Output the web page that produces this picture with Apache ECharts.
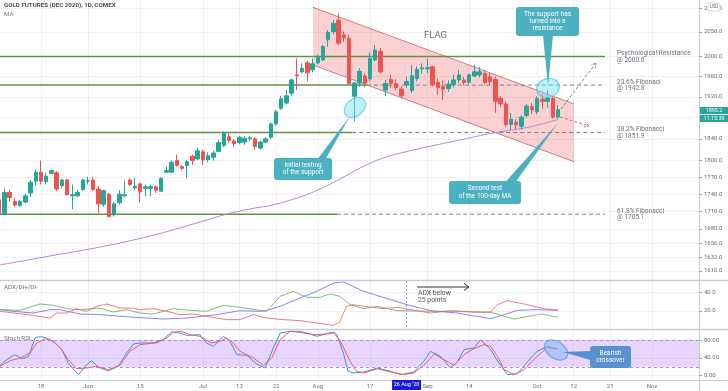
<!DOCTYPE html>
<html><head><meta charset="utf-8">
<script src="https://cdn.jsdelivr.net/npm/echarts@6/dist/echarts.min.js"></script>
<style>html,body{margin:0;padding:0;background:#fff}#c{width:728px;height:391px}</style>
</head><body><div id="c"></div><script>
// ---------- data ----------
const dates = ['2020-05-06','2020-05-07','2020-05-08','2020-05-11','2020-05-12','2020-05-13','2020-05-14','2020-05-15','2020-05-18','2020-05-19','2020-05-20','2020-05-21','2020-05-22','2020-05-26','2020-05-27','2020-05-28','2020-05-29','2020-06-01','2020-06-02','2020-06-03','2020-06-04','2020-06-05','2020-06-08','2020-06-09','2020-06-10','2020-06-11','2020-06-12','2020-06-15','2020-06-16','2020-06-17','2020-06-18','2020-06-19','2020-06-22','2020-06-23','2020-06-24','2020-06-25','2020-06-26','2020-06-29','2020-06-30','2020-07-01','2020-07-02','2020-07-06','2020-07-07','2020-07-08','2020-07-09','2020-07-10','2020-07-13','2020-07-14','2020-07-15','2020-07-16','2020-07-17','2020-07-20','2020-07-21','2020-07-22','2020-07-23','2020-07-24','2020-07-27','2020-07-28','2020-07-29','2020-07-30','2020-07-31','2020-08-03','2020-08-04','2020-08-05','2020-08-06','2020-08-07','2020-08-10','2020-08-11','2020-08-12','2020-08-13','2020-08-14','2020-08-17','2020-08-18','2020-08-19','2020-08-20','2020-08-21','2020-08-24','2020-08-25','2020-08-26','2020-08-27','2020-08-28','2020-08-31','2020-09-01','2020-09-02','2020-09-03','2020-09-04','2020-09-08','2020-09-09','2020-09-10','2020-09-11','2020-09-14','2020-09-15','2020-09-16','2020-09-17','2020-09-18','2020-09-21','2020-09-22','2020-09-23','2020-09-24','2020-09-25','2020-09-28','2020-09-29','2020-09-30','2020-10-01','2020-10-02','2020-10-05','2020-10-06','2020-10-07'];
const open  = [1730,1705,1743,1727,1720,1726,1742,1763,1779,1762,1777,1778,1755,1765,1737,1737,1748,1763,1765,1749,1722,1740,1704,1725,1737,1765,1751,1758,1750,1750,1753,1745,1779,1779,1800,1789,1791,1808,1803,1816,1802,1806,1817,1828,1844,1836,1833,1834,1840,1840,1823,1834,1843,1868,1898,1908,1927,1963,1969,1987,1973,1987,1993,2034,2051,2075,2044,2037,1921,1947,1961,1955,1993,2010,1933,1954,1946,1935,1943,1932,1956,1975,1975,1979,1948,1940,1936,1944,1953,1953,1948,1961,1963,1966,1959,1954,1917,1906,1867,1871,1863,1884,1901,1891,1915,1911,1917,1881];
const close = [1706,1743,1734,1721,1727,1737,1761,1779,1763,1772,1782,1749,1765,1739,1739,1743,1765,1764,1748,1723,1746,1701,1723,1740,1739,1757,1754,1744,1753,1753,1747,1768,1782,1797,1791,1786,1798,1800,1818,1801,1809,1814,1833,1851,1837,1831,1843,1841,1842,1826,1834,1840,1868,1891,1916,1922,1953,1961,1976,1967,1985,1998,2020,2049,2068,2027,2038,1946,1947,1970,1947,1996,2013,1969,1946,1946,1938,1922,1950,1961,1974,1977,1977,1944,1938,1935,1945,1953,1963,1948,1963,1969,1969,1948,1950,1911,1906,1867,1877,1866,1881,1902,1895,1917,1911,1918,1881,1895.2];
const low   = [1700,1704,1727,1718,1718,1724,1735,1755,1757,1757,1776,1745,1750,1737,1714,1735,1746,1757,1746,1707,1718,1700,1701,1722,1735,1754,1748,1725,1736,1736,1742,1744,1778,1778,1789,1782,1768,1792,1801,1792,1797,1800,1815,1825,1832,1826,1830,1829,1836,1820,1820,1832,1840,1865,1895,1905,1922,1933,1966,1950,1968,1984,1990,2020,2045,2023,2030,1943,1873,1940,1938,1950,1990,1966,1921,1937,1933,1917,1937,1927,1950,1965,1966,1940,1924,1914,1930,1938,1947,1943,1944,1958,1958,1943,1943,1889,1900,1863,1857,1857,1857,1880,1886,1886,1896,1899,1878,1877];
const high  = [1734,1750,1748,1733,1730,1741,1765,1783,1800,1778,1784,1781,1767,1767,1757,1748,1767,1771,1771,1754,1748,1742,1726,1747,1764,1768,1768,1760,1757,1757,1755,1770,1789,1800,1811,1792,1801,1811,1823,1820,1815,1818,1838,1854,1851,1840,1846,1845,1846,1843,1836,1843,1871,1895,1922,1933,1956,1996,1986,1991,1996,2004,2023,2054,2075,2089,2051,2044,1948,1976,1966,2008,2023,2017,1953,1963,1954,1940,1960,1983,1980,1986,1996,1981,1956,1952,1952,1963,1973,1959,1966,1983,1979,1972,1966,1959,1921,1911,1889,1877,1884,1906,1908,1921,1926,1933,1921,1904];
// 100-day MA, read at sample points [bar index, price]
const ma100 = [[0.15,1619.8],[9.7,1634.5],[19.3,1649.4],[28.9,1667.9],[38.5,1691.7],[43.6,1705.3],[48,1714.1],[52.4,1721.1],[57.6,1734.9],[61.4,1749.0],[65.3,1766.9],[69.1,1786.6],[73.5,1804.8],[77.7,1815.8],[81.9,1825.0],[88.2,1837.9],[94.6,1851.0],[101.6,1862.3],[107,1876.4]];
const adx = [[0.15,21.3],[2.7,19.5],[6.5,17.6],[9.7,21.3],[11.6,21.3],[15.5,16.5],[19.3,15.8],[25.7,12.9],[31.4,11],[35.9,12.1],[41.6,15.8],[46.1,20.2],[49.9,19.5],[51.2,20.2],[53.8,25],[57.6,34.2],[60.8,41.5],[64,50.7],[65.9,51.8],[69.8,41.5],[78.1,26.8],[82.6,20.2],[87.7,17.6],[94.1,11.4],[96.7,15.8],[99.2,20.6],[103,21.3],[107,20.6]];
const diPlus = [[0.15,21.3],[4,20.6],[7.8,27.6],[10.4,26.1],[12.9,22.4],[15.5,21.3],[19.3,23.1],[21.8,18.7],[24.4,21.3],[26.9,17.6],[29.5,16.5],[33.3,22.4],[36.5,20.6],[39.7,19.5],[42.9,26.1],[46.1,23.9],[49.9,20.6],[51.2,19.5],[53.8,36],[56.3,41.5],[58.9,34.9],[61.4,34.9],[63.3,38.6],[65.2,36],[67.2,26.8],[69.8,22.4],[72.4,25],[76.2,20.2],[82.6,19.5],[88.4,19.5],[94.1,18.4],[98.6,11],[103.7,16.5],[107,12.9]];
const diMinus = [[0.15,19.5],[6.5,15],[9.7,12.1],[11,17.6],[12.9,17.6],[14.8,22.4],[16.7,19.5],[18.7,25],[20.6,27.6],[23.1,23.1],[25.7,23.1],[26.9,21.3],[29.5,22.4],[32.1,19.5],[34.6,15.8],[37.2,16.5],[39.7,14],[43.5,10.3],[46.1,10.3],[48.7,15.8],[51.2,12.1],[54.4,10.3],[57.6,9.2],[64,4],[65.2,7.7],[66.5,25],[67.8,26.8],[69.8,25],[73.7,22.4],[76.2,23.9],[82.6,17.6],[86.4,20.2],[90.9,18.4],[94.1,18.7],[95.4,26.8],[97.3,31.2],[100.5,27.6],[104.3,22.4],[107,20.6]];
const stochK = [[0.15,23.3],[1.4,36],[3,47.2],[4.3,38.2],[5.6,42.7],[6.9,86],[8.1,87.5],[9.4,83],[10.7,73.3],[12,58.4],[13.2,28.5],[15.2,2.4],[16.4,21],[17.7,33.7],[19,18.8],[20.9,11.3],[22.8,21],[24.4,50.9],[25.7,71.1],[27,73.3],[30.1,73.3],[31.4,80.8],[33,98],[34.6,95.7],[35.9,90.5],[38.4,92],[39.7,73.3],[41,65.9],[42.3,80.8],[42.9,88.3],[44.2,77.1],[45.5,47.2],[47.4,45.7],[49.3,26.3],[50.9,17.3],[52.5,62.1],[53.8,95.7],[55.7,99.5],[57.6,97.2],[59.5,93.5],[60.8,88.3],[64,98],[64.6,93.5],[65.9,50.9],[66.8,9.8],[67.8,6.1],[69.85,8.3],[72.4,17.3],[75,9.8],[76.9,2.4],[79.4,8.3],[81.3,32.2],[82.6,54.7],[84.5,43.5],[86.4,17.3],[87.7,30.8],[89,58.4],[90.9,62.1],[92.2,80.8],[94.1,58.4],[95.4,33.7],[97.3,2.4],[99.2,4.6],[101.8,39.7],[103,54.7],[105,65.9],[106.2,60.6],[107,60.6]];
const stochD = [[0.15,21],[2.1,33.7],[4,39.7],[5.9,50.9],[7.2,73.3],[8.8,83],[10.4,77.1],[12,58.4],[13.2,36],[14.8,15.8],[16.7,17.3],[18.7,21],[20.9,13.6],[23.1,23.3],[25,54.7],[27,69.6],[29.5,73.3],[32.1,84.5],[33.3,97.2],[34.9,99.5],[36.5,92],[38.4,88.3],[40.7,73.3],[42.3,77.1],[43.5,84.5],[44.8,73.3],[46.1,54.7],[48.7,39.7],[50.6,23.3],[52.2,39.7],[53.8,80.8],[55.7,99.5],[57.6,99.5],[60.1,92],[62.7,93.5],[64,95.7],[65.2,80.8],[67.2,32.2],[68.4,9.8],[69.85,6.1],[72.4,15.8],[75,8.3],[77.5,2.4],[79.4,6.1],[81.3,23.3],[83.3,48.7],[85.2,36],[87.1,23.3],[89,47.2],[90.9,60.6],[92.8,69.6],[94.1,65.9],[95.4,43.5],[96.7,13.6],[98.6,2.4],[100.5,13.6],[103,43.5],[105,63.6],[106.6,60.6]];
const levels = [2000.0, 1942.8, 1851.9, 1705.1];
const levelNames = ['Psychological Resistance', '23.6% Fibonaci', '38.2% Fibonacci', '61.8% Fibonacci'];
const levelSolidTo = [116.0, 70.4, 67.6, 64.7];
const levelEnd = 116.0;
const flagTop = [[60.09, 2101.8], [110.07, 1906.1]];
const flagBottom = [[60.09, 1982.7], [110.07, 1798.0]];
const xTickIdx = [8,17,27,39,46,53,61,71,82,90,103,110,117,125];
const xTickText = ['18','Jun','15','Jul','13','22','Aug','17','Sep','14','Oct','12','21','Nov'];
const priceTicks = [1610,1632,1656,1680,1710,1740,1770,1800,1840,1880,1920,1960,2000,2050,2100];
const adxTicks = [20,40];
const stochTicks = [0,40,80];

// ---------- chart ----------
const FONT = 'Roboto, "DejaVu Sans", sans-serif';
const xMin = 0.149, xMax = 134.0;
const GRIDC = '#eef0f4';
const chart = echarts.init(document.getElementById('c'));
const grids = [
  {left:0, top:0, width:699, height:280},
  {left:0, top:280, width:699, height:49},
  {left:0, top:329, width:699, height:51}
];
const xAxes = [0,1,2].map(g => ({
  type:'value', gridIndex:g, min:xMin, max:xMax,
  axisLine:{show:false}, axisTick:{show:false, customValues:xTickIdx},
  splitLine:{show:true, lineStyle:{color:GRIDC, width:1}},
  axisLabel:{show:g===2, customValues:xTickIdx, margin:3, fontSize:6, color:'#6a6d78', fontFamily:FONT,
    formatter:v => xTickText[xTickIdx.indexOf(Math.round(v))] || ''}
}));
const yLab = {fontSize:6, color:'#6a6d78', fontFamily:FONT, margin:5};
const yAxes = [
  {type:'log', logBase:10, gridIndex:0, position:'right', min:1595.3, max:2117.4,
   axisLine:{show:false}, axisTick:{show:true, length:3, customValues:priceTicks, lineStyle:{color:'#9598a1'}},
   splitLine:{show:true, lineStyle:{color:GRIDC}},
   axisLabel:Object.assign({customValues:priceTicks, formatter:v => (+v).toFixed(1)}, yLab)},
  {type:'value', gridIndex:1, position:'right', min:0, max:54,
   axisLine:{show:false}, axisTick:{show:true, length:3, customValues:adxTicks, lineStyle:{color:'#9598a1'}},
   splitLine:{show:true, lineStyle:{color:GRIDC}},
   axisLabel:Object.assign({customValues:adxTicks, formatter:v => (+v).toFixed(1)}, yLab)},
  {type:'value', gridIndex:2, position:'right', min:-9.6, max:104.7,
   axisLine:{show:false}, axisTick:{show:true, length:3, customValues:stochTicks, lineStyle:{color:'#9598a1'}},
   splitLine:{show:true, lineStyle:{color:GRIDC}},
   axisLabel:Object.assign({customValues:stochTicks, formatter:v => (+v).toFixed(2)}, yLab)}
];

const series = [];
// flag channel
series.push({
  type:'custom', xAxisIndex:0, yAxisIndex:0, silent:true, z:1,
  data:[[flagTop[0][0], 2000]],
  renderItem:(params, api) => {
    const a = api.coord(flagTop[0]), b = api.coord(flagTop[1]);
    const c = api.coord(flagBottom[1]), d = api.coord(flagBottom[0]);
    return {type:'group', children:[
      {type:'polygon', shape:{points:[a,b,c,d]}, style:{fill:'rgba(239,83,80,0.27)'}},
      {type:'line', shape:{x1:a[0],y1:a[1],x2:b[0],y2:b[1]}, style:{stroke:'rgba(175,95,95,0.75)', lineWidth:1}},
      {type:'line', shape:{x1:d[0],y1:d[1],x2:c[0],y2:c[1]}, style:{stroke:'rgba(175,95,95,0.75)', lineWidth:1}}
    ]};
  }
});
// levels
levels.forEach((v, k) => {
  series.push({type:'line', xAxisIndex:0, yAxisIndex:0, silent:true, z:2, symbol:'none',
    data:[[xMin, v], [levelSolidTo[k], v]], lineStyle:{color:'#5f9149', width:1.5}});
  if (levelSolidTo[k] < levelEnd) {
    series.push({type:'line', xAxisIndex:0, yAxisIndex:0, silent:true, z:2, symbol:'none',
      data:[[levelSolidTo[k], v], [levelEnd, v]], lineStyle:{color:'#7d808a', width:1, type:[4,3]}});
  }
});
// MA
series.push({type:'line', xAxisIndex:0, yAxisIndex:0, silent:true, z:3, symbol:'none', smooth:0.4,
  data:ma100, lineStyle:{color:'#bb86cf', width:1}});
// candles
series.push({type:'candlestick', xAxisIndex:0, yAxisIndex:0, z:5, barWidth:4,
  data:dates.map((d, i) => [i, open[i], close[i], low[i], high[i]]),
  itemStyle:{color:'#26a69a', color0:'#ef5350', borderColor:'#26a69a', borderColor0:'#ef5350', borderWidth:1}});
// ADX
[[adx,'#7170f0'],[diPlus,'#63b468'],[diMinus,'#f06464']].forEach(([d,c]) => {
  series.push({type:'line', xAxisIndex:1, yAxisIndex:1, silent:true, symbol:'none', data:d,
    lineStyle:{color:c, width:1, opacity:0.85}});
});
// Stoch RSI
series.push({type:'line', xAxisIndex:2, yAxisIndex:2, silent:true, symbol:'none', data:stochK, z:3,
  lineStyle:{color:'#3b8ef0', width:1},
  markArea:{silent:true, itemStyle:{color:'rgba(170,100,240,0.27)'}, data:[[{yAxis:20},{yAxis:80}]]},
  markLine:{silent:true, symbol:'none', label:{show:false}, lineStyle:{color:'#a88ad6', type:[3,3], width:1},
    data:[{yAxis:20},{yAxis:80}]}});
series.push({type:'line', xAxisIndex:2, yAxisIndex:2, silent:true, symbol:'none', data:stochD, z:3,
  lineStyle:{color:'#f0605a', width:1}});

chart.setOption({animation:false, backgroundColor:'#fff', grid:grids, xAxis:xAxes, yAxis:yAxes, series});

// ---------- annotations ----------
const G = [];
function T(x, y, s, o = {}) {
  G.push({type:'text', x, y, z:100, style:{text:s, fill:o.fill || '#787b86',
    font:`${o.bold ? 'bold ' : ''}${o.size || 6.5}px ${FONT}`, align:o.align || 'left', verticalAlign:'middle'}});
}
function L(pts, stroke, w = 1, dash = null) {
  G.push({type:'polyline', z:90, shape:{points:pts}, style:{stroke, lineWidth:w, fill:null, lineDash:dash}});
}
function R(x, y, w, h, fill, r = 0, stroke = null) {
  G.push({type:'rect', z:95, shape:{x, y, width:w, height:h, r}, style:{fill, stroke}});
}
function P(pts, fill) { G.push({type:'polygon', z:95, shape:{points:pts}, style:{fill}}); }
function E(cx, cy, rx, ry, rot, fill, stroke) {
  G.push({type:'ellipse', z:94, x:cx, y:cy, rotation:rot, shape:{cx:0, cy:0, rx, ry}, style:{fill, stroke, lineWidth:1}});
}
function arrow(x1, y1, x2, y2, color) {
  L([[x1,y1],[x2,y2]], color, 1, [3,2]);
  const a = Math.atan2(y2 - y1, x2 - x1), s = 5;
  L([[x2 - s*Math.cos(a - 0.5), y2 - s*Math.sin(a - 0.5)], [x2, y2], [x2 - s*Math.cos(a + 0.5), y2 - s*Math.sin(a + 0.5)]], color, 1, [2,1]);
}

// panel frames
L([[0,280.5],[728,280.5]], '#c9ccd4', 1.5);
L([[0,329.5],[728,329.5]], '#c9ccd4', 1.5);
L([[0,380.5],[728,380.5]], '#c9ccd4', 1);
L([[699.5,0],[699.5,391]], '#c9ccd4', 1);

// titles
T(4, 5.5, 'GOLD FUTURES (DEC 2020), 1D, COMEX', {bold:true, fill:'#4a4d57', size:6.2});
T(4, 14, 'MA', {size:6.2});
T(4, 287, 'ADX/DI+/DI-', {size:6.2, fill:'#6a6d78'});
T(4, 338, 'Stoch RSI', {size:6.2, fill:'#6a6d78'});
T(435.5, 36, 'FLAG', {size:9.5, fill:'#6a6d78', align:'center'});

// level labels
levels.forEach((v, k) => {
  const y = chart.convertToPixel({yAxisIndex:0}, v);
  T(617, y - 3, levelNames[k], {size:6.5, fill:'#6a6d78'});
  T(617, y + 3.5, '@ ' + v.toFixed(1), {size:6.5, fill:'#6a6d78'});
});

// projection arrows
arrow(561, 109, 596, 63, '#6c9a5c');
arrow(560, 117, 589, 126, '#e06a6a');

// callout 1
E(355, 107.5, 12, 8.5, 0.7, 'rgba(110,225,240,0.45)', 'rgba(70,200,225,0.8)');
P([[318,158.5],[326,158.5],[350,116]], '#4bb0bf');
R(274, 158, 58, 22, '#4bb0bf', 3);
T(303, 165, 'Initial testing', {fill:'#fff', align:'center'});
T(303, 172.5, 'of the support', {fill:'#fff', align:'center'});
// callout 2
E(548, 88, 11.5, 9.5, 0.3, 'rgba(110,225,240,0.45)', 'rgba(70,200,225,0.8)');
P([[543,35.5],[553,35.5],[548,86]], '#4bb0bf');
R(516, 7, 63, 29, '#4bb0bf', 3);
T(547.5, 14.5, 'The support has', {fill:'#fff', align:'center'});
T(547.5, 21.5, 'turned into a', {fill:'#fff', align:'center'});
T(547.5, 28.5, 'resistance', {fill:'#fff', align:'center'});
// callout 3
P([[506,181.5],[516,181.5],[558,123]], '#4bb0bf');
R(449, 181, 72, 23, '#4bb0bf', 3);
T(485, 188.5, 'Second test', {fill:'#fff', align:'center'});
T(485, 196, 'of the 100-day MA', {fill:'#fff', align:'center'});
// callout 4
E(556, 350, 13, 8.5, -0.6, 'rgba(120,180,245,0.5)', 'rgba(90,150,225,0.8)');
P([[590.5,351],[590.5,360],[563,352]], '#5a8fd0');
R(590, 346, 41, 22, '#5a8fd0', 3);
T(610.5, 353, 'Bearish', {fill:'#fff', align:'center'});
T(610.5, 360.5, 'crossover', {fill:'#fff', align:'center'});

// ADX note
const xAug26 = chart.convertToPixel({xAxisIndex:1}, 78);
L([[xAug26,281],[xAug26,329]], '#8c9bf0', 1, [2,2]);
L([[417,287],[469,287]], '#333', 1);
L([[464,283.5],[469,287],[464,290.5]], '#333', 1);
T(418, 293.5, 'ADX below', {fill:'#555', size:6.8});
T(418, 300.5, '25 points', {fill:'#555', size:6.8});

// crosshair date label
R(xAug26 - 14.5, 380, 29, 10, '#1a1ad8');
T(xAug26, 385, "26 Aug '20", {fill:'#fff', size:5.5, align:'center'});

// price boxes
R(700, 107, 28, 7, '#26a69a');
T(714, 110.5, close[close.length - 1].toFixed(1), {fill:'#fff', size:5.5, align:'center'});
R(700, 115, 28, 7, '#26a69a');
T(714, 118.5, '11:15:39', {fill:'#fff', size:5.5, align:'center'});
R(708, 3, 12, 8, '#fff', 1, '#d0d3da');
T(714, 7, 'USD', {fill:'#6a6d78', size:4.5, align:'center'});

chart.setOption({graphic:{elements:G}});
</script></body></html>
